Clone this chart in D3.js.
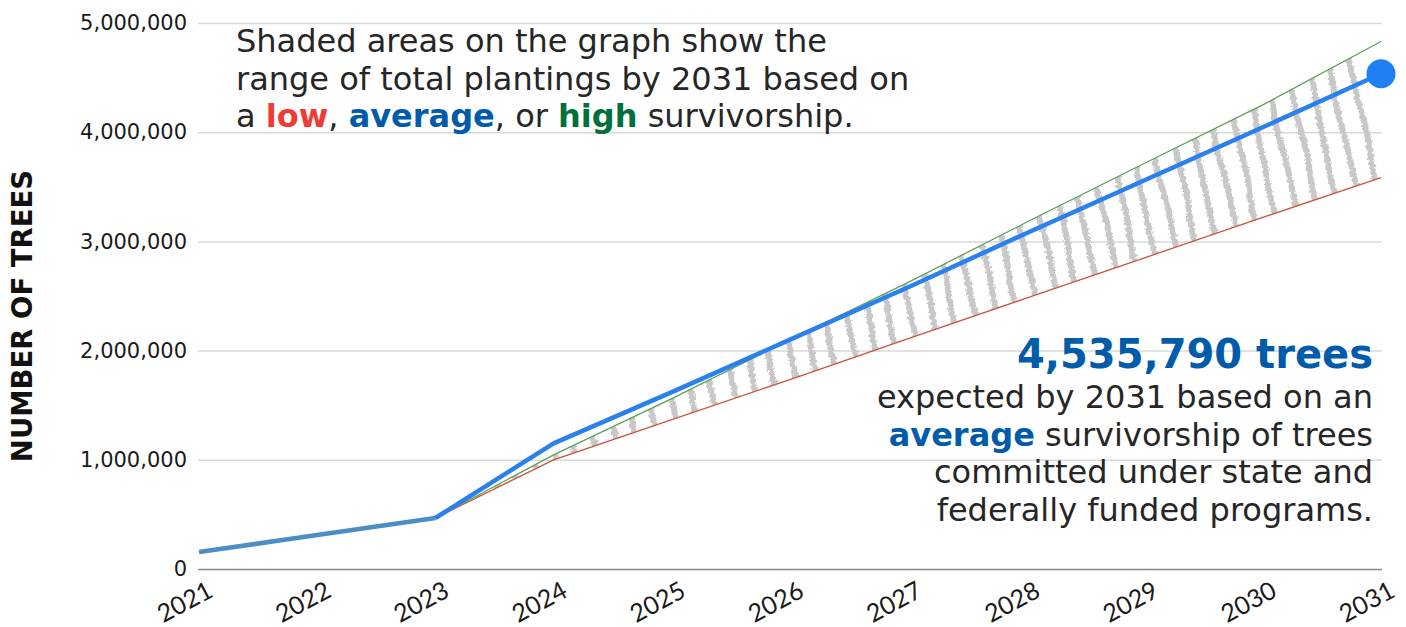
<!DOCTYPE html>
<html>
<head>
<meta charset="utf-8">
<script src="https://cdn.jsdelivr.net/npm/d3@7"></script>
<style>
  html, body { margin: 0; padding: 0; background: #ffffff; }
  svg { display: block; }
</style>
</head>
<body>
<svg id="chart" width="1406" height="627"></svg>
<script>
// ---------------- data ----------------
const years = [2021, 2022, 2023, 2024, 2025, 2026, 2027, 2028, 2029, 2030, 2031];
const yTicks = [0, 1000000, 2000000, 3000000, 4000000, 5000000];

const historicYears = [2021, 2022, 2023];
const historicValues = [155000, 311000, 467000];

const projYears = [2023, 2024, 2025, 2026, 2027, 2028, 2029, 2030, 2031];
const lowValues = [467000, 1000000, 1368000, 1735000, 2110000, 2480000, 2850000, 3220000, 3583000];
const averageValues = [467000, 1150000, 1620000, 2100000, 2580000, 3075000, 3560000, 4045000, 4535790];
const highValues = [467000, 1045000, 1560000, 2100000, 2625000, 3175000, 3715000, 4250000, 4830000];

const yAxisTitle = "NUMBER OF TREES";
const noteTop = [
  [{t: "Shaded areas on the graph show the"}],
  [{t: "range of total plantings by 2031 based on"}],
  [{t: "a "}, {t: "low", c: "#ef3b33", b: true}, {t: ", "}, {t: "average", c: "#005bab", b: true},
   {t: ", or "}, {t: "high", c: "#00703c", b: true}, {t: " survivorship."}]
];
const noteRight = [
  [{t: "expected by 2031 based on an"}],
  [{t: "average", c: "#005bab", b: true}, {t: " survivorship of trees"}],
  [{t: "committed under state and"}],
  [{t: "federally funded programs."}]
];
const headline = "4,535,790 trees";

// ---------------- layout ----------------
const svg = d3.select("#chart");
const x = d3.scaleLinear().domain([2021, 2031]).range([199, 1381]);
const y = d3.scaleLinear().domain([0, 5000000]).range([569, 23]);
const left = 198, right = 1382;

// grid + y labels
const yAxis = d3.axisLeft(y).tickValues(yTicks).tickFormat(d3.format(","))
  .tickSize(-(right - left)).tickPadding(11);
const gy = svg.append("g").attr("transform", `translate(${left},0)`).call(yAxis);
gy.select(".domain").remove();
gy.selectAll(".tick line").attr("stroke", d => d === 0 ? "#8a8a8a" : "#d9d9d9").attr("stroke-width", 1.5);
gy.selectAll(".tick text").attr("font-family", "'DejaVu Sans', Verdana, sans-serif")
  .attr("font-size", 21).attr("fill", "#1a1a1a");

// x labels
const xAxis = d3.axisBottom(x).tickValues(years).tickFormat(d3.format("d")).tickSize(0);
const gx = svg.append("g").attr("transform", "translate(0,569)").call(xAxis);
gx.select(".domain").remove();
gx.selectAll(".tick text")
  .attr("font-family", "Lato, 'Open Sans', sans-serif").attr("font-size", 25).attr("fill", "#1a1a1a")
  .attr("text-anchor", "end").attr("dy", null).attr("y", null)
  .attr("transform", "translate(15,27) rotate(-28)");

// y title
svg.append("text")
  .attr("transform", "translate(32,316) rotate(-90)")
  .attr("text-anchor", "middle")
  .attr("font-family", "'DejaVu Sans', Verdana, sans-serif").attr("font-weight", "bold")
  .attr("font-size", 27.5).attr("fill", "#111").text(yAxisTitle);

// ---------------- shaded range (sketchy hatch) ----------------
const defs = svg.append("defs");
const rangeArea = d3.area()
  .x((d, i) => x(projYears[i]))
  .y0((d, i) => y(lowValues[i]))
  .y1((d, i) => y(highValues[i]));
defs.append("clipPath").attr("id", "rangeClip")
  .append("path").attr("d", rangeArea(projYears));

const filt = defs.append("filter").attr("id", "pencil").attr("x", "-5%").attr("y", "-5%")
  .attr("width", "110%").attr("height", "110%");
filt.append("feTurbulence").attr("type", "fractalNoise").attr("baseFrequency", 0.35)
  .attr("numOctaves", 3).attr("seed", 7).attr("result", "noise");
filt.append("feDisplacementMap").attr("in", "SourceGraphic").attr("in2", "noise")
  .attr("scale", 5).attr("xChannelSelector", "R").attr("yChannelSelector", "G").attr("result", "disp");
filt.append("feGaussianBlur").attr("in", "disp").attr("stdDeviation", 0.6);

const hatchG = svg.append("g").attr("clip-path", "url(#rangeClip)")
  .append("g").attr("filter", "url(#pencil)");
const slant = 0.22, spacing = 21.5;
const strokeIdx = d3.range(Math.floor((x(2023) - 150) / spacing), Math.ceil((x(2031) + 10) / spacing));
hatchG.selectAll("path").data(strokeIdx).join("path")
  .attr("d", k => {
    const pts = [];
    for (let yy = 0; yy <= 600; yy += 10) {
      const wob = 1.1 * Math.sin(yy * 0.04 + k * 2.3) + 0.6 * Math.sin(yy * 0.1 + k * 0.7);
      pts.push([k * spacing - 40 + yy * slant + wob, yy]);
    }
    return d3.line().curve(d3.curveBasis)(pts);
  })
  .attr("fill", "none").attr("stroke", "#c8c8c8").attr("stroke-width", 6)
  .attr("stroke-linecap", "round");

// ---------------- lines ----------------
const lineP = vals => d3.line().x((d, i) => x(projYears[i])).y((d, i) => y(vals[i]))(vals);
svg.append("path").attr("d", lineP(lowValues)).attr("fill", "none")
  .attr("stroke", "#c8553f").attr("stroke-width", 1.3);
svg.append("path").attr("d", lineP(highValues)).attr("fill", "none")
  .attr("stroke", "#5a9e55").attr("stroke-width", 1.2);

svg.append("path")
  .attr("d", d3.line().x((d, i) => x(historicYears[i])).y(d => y(d))(historicValues))
  .attr("fill", "none").attr("stroke", "#4a8ec4").attr("stroke-width", 4.5).attr("stroke-linejoin", "round");

svg.append("path").attr("d", lineP(averageValues)).attr("fill", "none")
  .attr("stroke", "#2a80ec").attr("stroke-width", 4.5).attr("stroke-linejoin", "round");

svg.append("circle")
  .attr("cx", x(projYears[projYears.length - 1]))
  .attr("cy", y(averageValues[averageValues.length - 1]))
  .attr("r", 14.5).attr("fill", "#1f80f4");

// ---------------- annotations ----------------
function addBlock(lines, xPos, y0, step, anchor) {
  const t = svg.append("text")
    .attr("font-family", "'DejaVu Sans', Verdana, sans-serif").attr("font-size", 32)
    .attr("fill", "#262626").attr("text-anchor", anchor);
  lines.forEach((ln, li) => {
    ln.forEach((seg, si) => {
      const ts = t.append("tspan").text(seg.t);
      if (si === 0) ts.attr("x", xPos).attr("y", y0 + li * step);
      if (seg.c) ts.attr("fill", seg.c);
      if (seg.b) ts.attr("font-weight", "bold");
    });
  });
}
addBlock(noteTop, 236, 52, 37.5, "start");

svg.append("text").attr("x", 1373).attr("y", 368).attr("text-anchor", "end")
  .attr("font-family", "'DejaVu Sans', Verdana, sans-serif").attr("font-weight", "bold")
  .attr("font-size", 40).attr("fill", "#005bab").text(headline);
addBlock(noteRight, 1373, 408, 37.5, "end");
</script>
</body>
</html>
